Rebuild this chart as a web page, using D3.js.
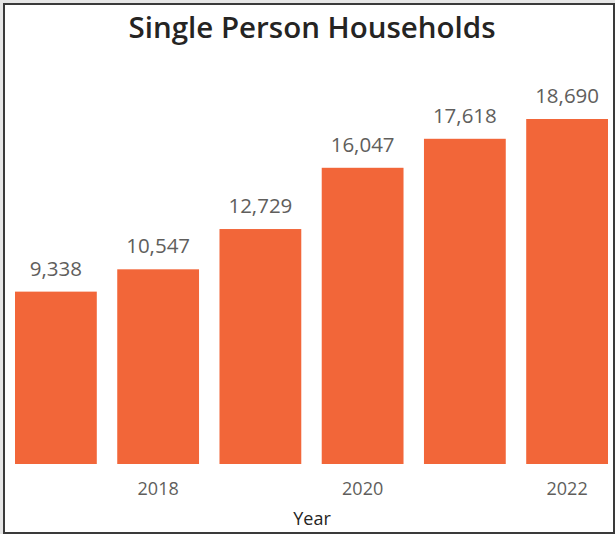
<!DOCTYPE html>
<html>
<head>
<meta charset="utf-8">
<script src="https://cdn.jsdelivr.net/npm/d3@7"></script>
<style>
  html, body { margin: 0; padding: 0; background: #e6e6e6; }
  svg { display: block; }
</style>
</head>
<body>
<svg id="chart" width="615" height="534"></svg>
<script>
const years = ["2017", "2018", "2019", "2020", "2021", "2022"];
const households = [9338, 10547, 12729, 16047, 17618, 18690];
const tickYears = ["2018", "2020", "2022"];
const titleText = "Single Person Households";
const xTitle = "Year";

const W = 615, H = 534;
const svg = d3.select("#chart");
const font = "'Open Sans', 'Noto Sans', sans-serif";

// frame
svg.append("rect").attr("x", 4).attr("y", 4).attr("width", W - 5).attr("height", H - 5)
  .attr("fill", "#ffffff").attr("stroke", "#3a3a3a").attr("stroke-width", 2);

const x = d3.scaleBand().domain(years).range([15, 608]).paddingInner(0.2).paddingOuter(0);
const y = d3.scaleLinear().domain([0, d3.max(households)]).range([464, 119]);

const data = years.map((yr, i) => ({ year: yr, value: households[i] }));

svg.append("g").selectAll("rect").data(data).join("rect")
  .attr("x", d => x(d.year))
  .attr("y", d => y(d.value))
  .attr("width", x.bandwidth())
  .attr("height", d => y(0) - y(d.value))
  .attr("fill", "#F26639");

svg.append("g").selectAll("text").data(data).join("text")
  .attr("x", d => x(d.year) + x.bandwidth() / 2)
  .attr("y", d => y(d.value) - 16)
  .attr("text-anchor", "middle")
  .attr("font-family", font)
  .attr("font-size", 20.5)
  .attr("fill", "#605E5C")
  .text(d => d3.format(",")(d.value));

const xAxis = d3.axisBottom(x).tickValues(tickYears).tickSize(0).tickPadding(0);
const gx = svg.append("g").attr("transform", "translate(0,464)").call(xAxis);
gx.select(".domain").remove();
gx.selectAll("text")
  .attr("dy", null)
  .attr("y", 31)
  .attr("font-family", font)
  .attr("font-size", 18)
  .attr("fill", "#605E5C");

svg.append("text")
  .attr("x", 312).attr("y", 525)
  .attr("text-anchor", "middle")
  .attr("font-family", font)
  .attr("font-size", 18)
  .attr("fill", "#252423")
  .text(xTitle);

svg.append("text")
  .attr("x", 312).attr("y", 38)
  .attr("text-anchor", "middle")
  .attr("font-family", font)
  .attr("font-size", 29.5)
  .attr("font-weight", 600)
  .attr("fill", "#252423")
  .text(titleText);
</script>
</body>
</html>
